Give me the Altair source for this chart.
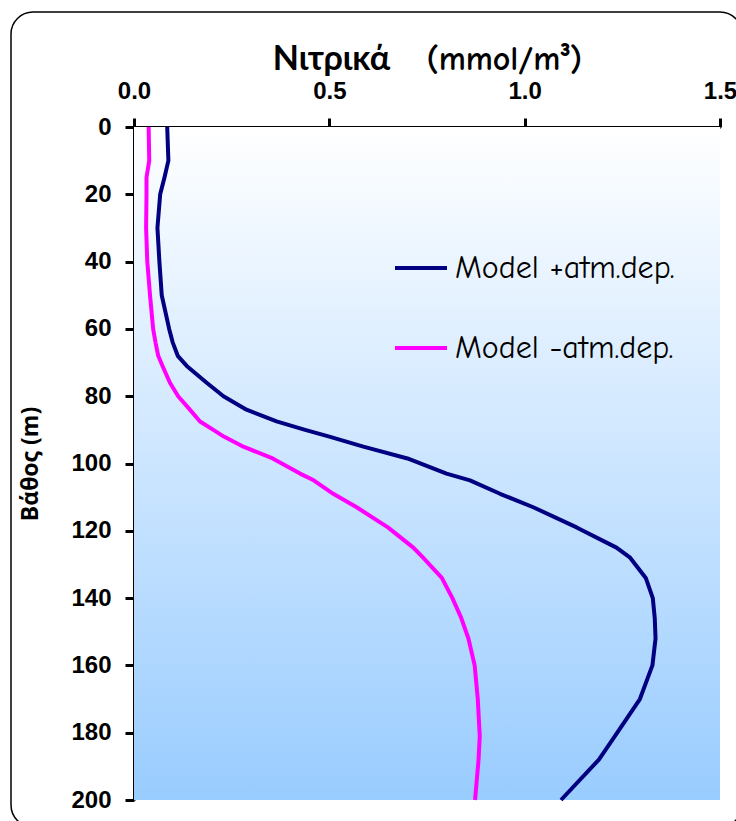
import altair as alt
import pandas as pd

# Depth (m) and nitrate concentration (mmol/m^3)
depth = [0, 10, 15, 20, 30, 40, 50, 60, 64, 68, 71, 76, 80, 84, 87.5, 90, 92, 95, 98.5,
         103, 105, 109, 113, 119, 125, 128, 134, 140, 146, 152, 160, 170, 181, 188, 200]
with_dep = [0.085, 0.088, 0.078, 0.067, 0.060, 0.065, 0.071, 0.090, 0.099, 0.112,
            0.135, 0.186, 0.229, 0.288, 0.365, 0.438, 0.50, 0.587, 0.70, 0.80, 0.86,
            0.937, 1.022, 1.133, 1.235, 1.27, 1.31, 1.328, 1.333, 1.335, 1.327, 1.295,
            1.231, 1.19, 1.093]
without_dep = [0.0375, 0.039, 0.032, 0.032, 0.031, 0.034, 0.041, 0.049, 0.055, 0.062,
               0.073, 0.092, 0.113, 0.143, 0.169, 0.203, 0.23, 0.28, 0.355, 0.425, 0.46,
               0.51, 0.57, 0.65, 0.715, 0.74, 0.788, 0.815, 0.838, 0.856, 0.872, 0.88,
               0.885, 0.882, 0.873]
series_names = ["Model +atm.dep.", "Model -atm.dep."]
series_colors = ["#000080", "#ff00ff"]
x_ticks = [0.0, 0.5, 1.0, 1.5]
y_ticks = [0, 20, 40, 60, 80, 100, 120, 140, 160, 180, 200]

rows = []
for name, vals in zip(series_names, [with_dep, without_dep]):
    for d, v in zip(depth, vals):
        rows.append({"series": name, "depth": d, "value": v})
df = pd.DataFrame(rows)

W, H = 586, 673
comic = "Comic Sans MS, Comic Neue, Lato, sans-serif"
arial = "Liberation Sans, Arial, sans-serif"

x_scale = alt.Scale(domain=[0, 1.5], nice=False, zero=False)
y_scale = alt.Scale(domain=[0, 200], reverse=True, nice=False)

x_axis = alt.Axis(
    orient="top", values=x_ticks, format=".1f", grid=False,
    labelFont=arial, labelFontWeight="bold", labelFontSize=24, labelColor="black",
    labelPadding=15, labelFlush=False,
    tickSize=9, tickWidth=3, tickColor="black",
    domainWidth=3, domainColor="black",
    title="Νιτρικά\u00a0\u00a0\u00a0(mmol/m³)", titleFont=comic, titleFontSize=34,
    titleFontWeight="bold", titleColor="black", titlePadding=3,
)
y_axis = alt.Axis(
    values=y_ticks, grid=False,
    labelFont=arial, labelFontWeight="bold", labelFontSize=24, labelColor="black",
    labelPadding=14, labelFlush=False,
    tickSize=9, tickWidth=3, tickColor="black",
    domainWidth=3, domainColor="black",
    title="Βάθος (m)", titleFont="Open Sans, DejaVu Sans, sans-serif", titleFontSize=23,
    titleFontWeight="bold", titleColor="black", titlePadding=28,
)

one = alt.Data(values=[{}])

gradient = alt.LinearGradient(
    gradient="linear", x1=0, x2=0, y1=0, y2=1,
    stops=[alt.GradientStop(offset=0, color="#ffffff"),
           alt.GradientStop(offset=1, color="#99ccff")],
)

bg = alt.Chart(one).mark_rect(fill=gradient).encode(
    x=alt.X(datum=0, scale=x_scale, axis=x_axis),
    x2=alt.X2(datum=1.5),
    y=alt.Y(datum=0, scale=y_scale, axis=y_axis),
    y2=alt.Y2(datum=200),
)

lines = alt.Chart(df).mark_line(strokeWidth=4, strokeJoin="round").encode(
    x=alt.X("value:Q", scale=x_scale, axis=x_axis),
    y=alt.Y("depth:Q", scale=y_scale, axis=y_axis),
    order=alt.Order("depth:Q"),
    color=alt.Color(
        "series:N",
        scale=alt.Scale(domain=series_names, range=series_colors),
        legend=alt.Legend(
            orient="none", legendX=259, legendY=113, title=None, padding=0,
            symbolType="stroke", symbolSize=2704, symbolStrokeWidth=4,
            labelFont=comic, labelFontSize=32, labelColor="black",
            labelOffset=6, rowPadding=36, labelLimit=400,
        ),
    ),
)

box = alt.Chart(one).mark_rect(
    fill="transparent", stroke="black", strokeWidth=1.5, cornerRadius=22
).encode(
    x=alt.value(-123), x2=alt.value(608),
    y=alt.value(-115), y2=alt.value(700),
)

chart = alt.layer(bg, lines, box).properties(
    width=W, height=H,
    autosize=alt.AutoSizeParams(type="none"),
    padding={"left": 134, "top": 127, "right": 16, "bottom": 21},
    background="white",
).configure_view(stroke=None)

chart.save("out.html", embed_options={"renderer": "svg", "actions": False})
